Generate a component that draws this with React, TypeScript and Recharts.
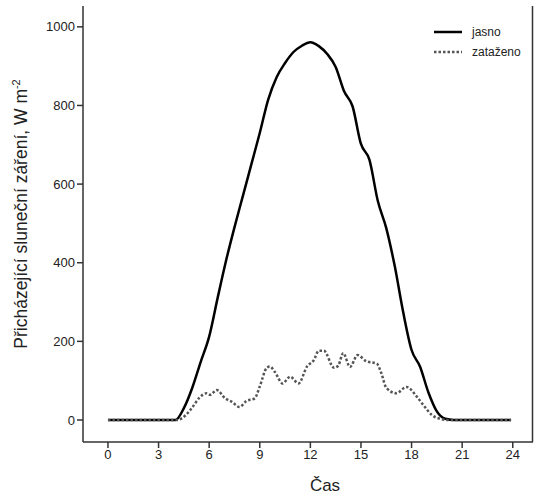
import React from 'react';
import { LineChart, Line, XAxis, YAxis, CartesianGrid } from 'recharts';

// hodiny a záření pro jasný den (W m-2)
const clearHours = [0, 1, 2, 3, 4, 4.5, 5, 5.5, 6, 6.5, 7, 7.5, 8, 8.5, 9, 9.5, 10, 10.5, 11, 11.5, 12, 12.5, 13, 13.5, 14, 14.5, 15, 15.5, 16, 16.5, 17, 17.5, 18, 18.5, 19, 19.5, 20, 20.5, 21, 22, 23, 23.9];
const clearValues = [0, 0, 0, 0, 0, 30, 82, 148, 212, 310, 405, 490, 570, 650, 730, 815, 872, 908, 936, 952, 961, 951, 931, 898, 836, 798, 702, 662, 557, 488, 392, 275, 178, 136, 70, 22, 3, 0, 0, 0, 0, 0];

// zataženo
const cloudyHours = [0, 1, 2, 3, 4.1, 4.6, 5, 5.45, 5.85, 6.05, 6.45, 6.95, 7.35, 7.8, 8.2, 8.7, 9, 9.4, 9.6, 9.9, 10.35, 10.8, 11.3, 11.8, 12.2, 12.5, 12.8, 13.4, 13.65, 13.95, 14.35, 14.8, 15.3, 15.95, 16.2, 16.5, 17.1, 17.7, 18.3, 18.7, 19.2, 19.7, 20.2, 21, 22, 23, 23.9];
const cloudyValues = [0, 0, 0, 0, 0, 12, 32, 58, 68, 64, 76, 55, 46, 33, 48, 55, 85, 132, 136, 122, 93, 110, 93, 136, 152, 176, 176, 133, 138, 170, 135, 165, 150, 143, 120, 82, 68, 84, 60, 38, 13, 3, 0, 0, 0, 0, 0];

const xTicks = [0, 3, 6, 9, 12, 15, 18, 21, 24];
const yTicks = [0, 200, 400, 600, 800, 1000];
const xDomain: [number, number] = [-1.48, 25.2];
const yDomain: [number, number] = [-56, 1053];

const clearData = clearHours.map((h, i) => ({ h, v: clearValues[i] }));
const cloudyData = cloudyHours.map((h, i) => ({ h, v: cloudyValues[i] }));

const FONT = '"Liberation Sans", Arial, sans-serif';

const YLabel = () => (
  <text
    transform="translate(27, 214) rotate(-90)"
    textAnchor="middle"
    fontFamily={FONT}
    fontSize={17.5}
    fill="#222"
  >
    Přicházející sluneční záření, W m
    <tspan dy={-7} fontSize={11}>-2</tspan>
  </text>
);

const LegendBox = () => (
  <div style={{ position: 'absolute', left: 434, top: 22, fontFamily: FONT, fontSize: 12, color: '#222' }}>
    <div style={{ display: 'flex', alignItems: 'center', height: 20 }}>
      <svg width={30} height={6}><line x1={0} y1={3} x2={28} y2={3} stroke="#000" strokeWidth={2.5} /></svg>
      <span style={{ marginLeft: 8 }}>jasno</span>
    </div>
    <div style={{ display: 'flex', alignItems: 'center', height: 20 }}>
      <svg width={30} height={6}><line x1={0} y1={3} x2={28} y2={3} stroke="#555" strokeWidth={2.5} strokeDasharray="2.5 2" /></svg>
      <span style={{ marginLeft: 8 }}>zataženo</span>
    </div>
  </div>
);

export default function App() {
  return (
    <div style={{ position: 'absolute', left: 0, top: 0, width: 535, height: 495, background: '#fff' }}>
      <LineChart width={535} height={495} margin={{ top: 6, right: 2, left: 0, bottom: 0 }}>
        {/* horní a pravá strana rámečku jako mřížka na okraji domény */}
        <CartesianGrid
          horizontalValues={[yDomain[1] - 1]}
          verticalValues={[xDomain[1] - 0.03]}
          stroke="#333"
          strokeWidth={1.5}
        />
        <XAxis
          type="number"
          dataKey="h"
          domain={xDomain}
          allowDataOverflow
          ticks={xTicks}
          height={53}
          stroke="#333"
          strokeWidth={1.5}
          tickSize={6}
          tick={{ fontFamily: FONT, fontSize: 13, fill: '#222' }}
          label={{ value: 'Čas', position: 'insideBottom', offset: 4, dx: 17, fontFamily: FONT, fontSize: 17, fill: '#222' }}
        />
        <YAxis
          type="number"
          domain={yDomain}
          allowDataOverflow
          ticks={yTicks}
          width={83}
          stroke="#333"
          strokeWidth={1.5}
          tickSize={6}
          tick={{ fontFamily: FONT, fontSize: 13, fill: '#222' }}
          label={<YLabel />}
        />
        <Line data={clearData} dataKey="v" type="monotone" stroke="#000" strokeWidth={2.5} dot={false} isAnimationActive={false} />
        <Line data={cloudyData} dataKey="v" type="monotone" stroke="#555" strokeWidth={2.5} strokeDasharray="2.5 2" dot={false} isAnimationActive={false} />
      </LineChart>
      <LegendBox />
    </div>
  );
}
